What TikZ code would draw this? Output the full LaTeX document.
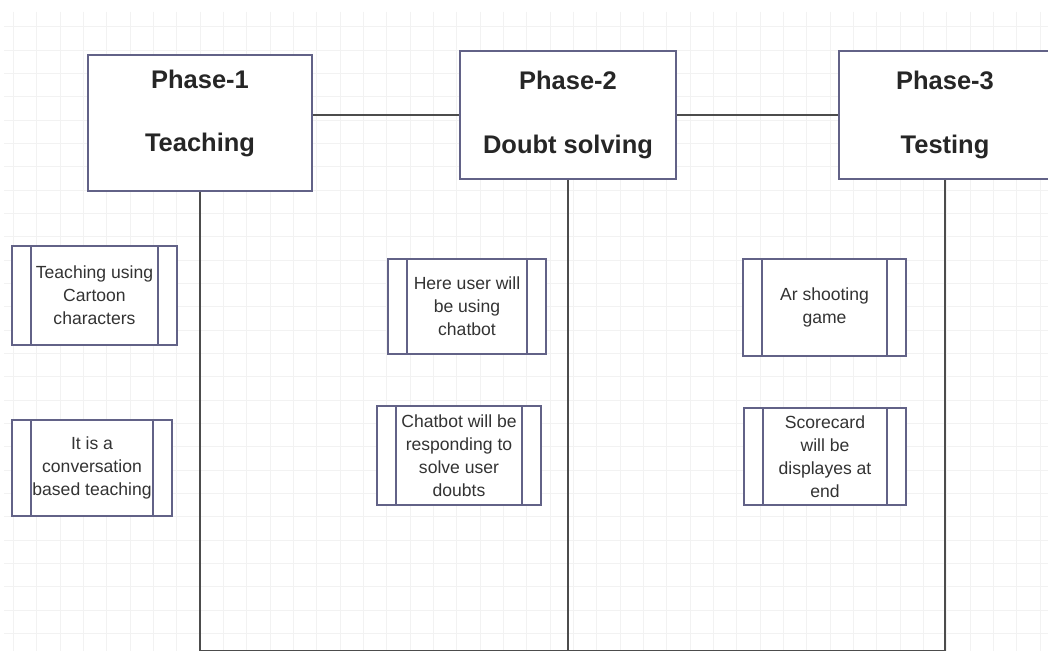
\documentclass[tikz,border=0pt]{standalone}
\usepackage{fontspec}
\setmainfont{Liberation Sans}
\definecolor{boxline}{RGB}{98,98,135}
\definecolor{gridgray}{RGB}{242,242,242}
\begin{document}
\begin{tikzpicture}[x=0.02cm, y=-0.02cm]
        \tikzstyle{gridline}=[draw=gridgray, line width=0.5pt]
        \tikzstyle{phase}=[draw=boxline, line width=0.8pt, fill=white, align=center, text=black!85, font=\bfseries\fontsize{14.5}{18}\selectfont]
        \tikzstyle{proc}=[draw=boxline, line width=0.7pt, fill=white, align=center, text=black!80, font=\fontsize{10}{13}\selectfont,
            path picture={\draw[boxline, line width=0.7pt] ([xshift=0.38cm]path picture bounding box.north west) -- ([xshift=0.38cm]path picture bounding box.south west)
                ([xshift=-0.38cm]path picture bounding box.north east) -- ([xshift=-0.38cm]path picture bounding box.south east);}]
        \tikzstyle{link}=[draw=black!70, line width=0.7pt]

        \useasboundingbox (0,0) rectangle (1048,651);
        \fill[white] (0,0) rectangle (1048,651);
        \foreach \i in {0,...,44} \draw[gridline] (13.33+23.333*\i,12) -- (13.33+23.333*\i,651);
        \foreach \j in {0,...,27} \draw[gridline] (4,26.67+23.333*\j) -- (1048,26.67+23.333*\j);

        \node (p1)[phase, minimum width=4.48cm, minimum height=2.72cm, text depth=0.5cm] at (200,123) {Phase-1\\[18pt]Teaching};
        \node (p2)[phase, minimum width=4.32cm, minimum height=2.56cm] at (568,115) {Phase-2\\[18pt]Doubt solving};
        \node (p3)[phase, minimum width=4.24cm, minimum height=2.56cm] at (945,115) {Phase-3\\[18pt]Testing};

        \node (t1)[proc, minimum width=3.3cm, minimum height=1.98cm] at (94.5,295.5) {Teaching using\\Cartoon\\characters};
        \node (t2)[proc, minimum width=3.2cm, minimum height=1.92cm] at (92,468) {It is a\\conversation\\based teaching};
        \node (d1)[proc, minimum width=3.16cm, minimum height=1.9cm] at (467,306.5) {Here user will\\be using\\chatbot};
        \node (d2)[proc, minimum width=3.28cm, minimum height=1.98cm] at (459,455.5) {Chatbot will be\\responding to\\solve user\\doubts};
        \node (a1)[proc, minimum width=3.26cm, minimum height=1.94cm] at (824.5,307.5) {Ar shooting\\game};
        \node (a2)[proc, minimum width=3.24cm, minimum height=1.94cm] at (825,456.5) {Scorecard\\will be\\displayes at\\end};

        \coordinate (b1) at (200,651);
        \coordinate (b3) at (945,651);

        \draw[link] (p1.east |- p2.west) -- (p2.west);
        \draw[link] (p2.east) -- (p3.west);
        \draw[link] (p1.south) -- (b1) -- (b3) -- (p3.south);
        \draw[link] (p2.south) -- (p2.south |- b1);
    \end{tikzpicture}
\end{document}
